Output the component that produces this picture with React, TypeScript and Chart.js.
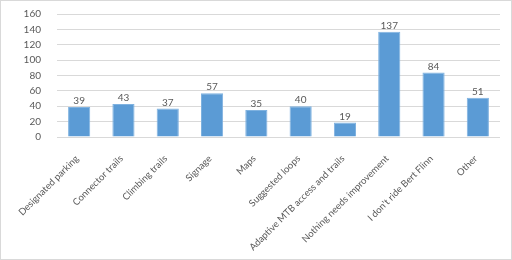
import React, { useEffect, useRef } from "react";
import { Chart, registerables } from "chart.js";

Chart.register(...registerables);

const categories = [
  "Designated parking",
  "Connector trails",
  "Climbing trails",
  "Signage",
  "Maps",
  "Suggested loops",
  "Adaptive MTB access and trails",
  "Nothing needs improvement",
  "I don\u2019t ride Bert Flinn",
  "Other",
];
const values = [39, 43, 37, 57, 35, 40, 19, 137, 84, 51];
const yMin = 0;
const yMax = 160;
const yStep = 20;

const FONT = "Lato, 'Open Sans', sans-serif";
const TEXT = "#595959";

const valueLabels = {
  id: "valueLabels",
  afterDatasetsDraw(chart: any) {
    const ctx = chart.ctx;
    const meta = chart.getDatasetMeta(0);
    ctx.save();
    ctx.fillStyle = TEXT;
    ctx.font = `10px ${FONT}`;
    ctx.textAlign = "center";
    ctx.textBaseline = "bottom";
    meta.data.forEach((bar: any, i: number) => {
      ctx.fillText(String(chart.data.datasets[0].data[i]), bar.x, bar.y - 1);
    });
    ctx.restore();
  },
};

export default function App() {
  const ref = useRef<HTMLCanvasElement | null>(null);
  useEffect(() => {
    document.body.style.margin = "0";
    const chart = new Chart(ref.current!, {
      type: "bar",
      data: {
        labels: categories,
        datasets: [
          {
            data: values,
            backgroundColor: "#5B9BD5",
            borderColor: "#7FB2E0",
            borderWidth: 1,
            barPercentage: 1,
            categoryPercentage: 0.5,
          },
        ],
      },
      options: {
        animation: false,
        responsive: false,
        maintainAspectRatio: false,
        layout: { padding: { top: 13, right: 11, left: 0, bottom: 0 } },
        plugins: { legend: { display: false }, tooltip: { enabled: false } },
        scales: {
          x: {
            grid: { display: false, drawTicks: false },
            border: { display: false },
            ticks: {
              color: TEXT,
              font: { family: FONT, size: 9.5 },
              minRotation: 45,
              maxRotation: 45,
              autoSkip: false,
              padding: 16,
              labelOffset: -2,
            },
            afterFit(scale: any) {
              scale.height = 122;
              scale.paddingLeft = 0;
              scale.paddingRight = 0;
            },
          },
          y: {
            min: yMin,
            max: yMax,
            grid: { color: "#d9d9d9", drawTicks: false },
            border: { display: false },
            ticks: {
              stepSize: yStep,
              color: TEXT,
              font: { family: FONT, size: 10 },
              padding: 16,
            },
            afterFit(scale: any) {
              scale.width = 56;
              scale.paddingTop = 0;
              scale.paddingBottom = 0;
            },
          },
        },
      },
      plugins: [valueLabels],
    });
    return () => chart.destroy();
  }, []);
  return (
    <div
      style={{
        position: "absolute",
        left: 0,
        top: 0,
        width: 512,
        height: 260,
        boxSizing: "border-box",
        border: "1px solid #d9d9d9",
        background: "#fff",
      }}
    >
      <canvas ref={ref} width={510} height={258} style={{ display: "block" }} />
    </div>
  );
}
